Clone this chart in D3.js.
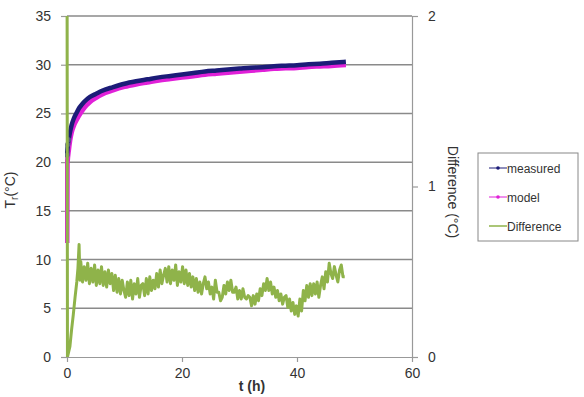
<!DOCTYPE html>
<html>
<head>
<meta charset="utf-8">
<script src="https://cdn.jsdelivr.net/npm/d3@7"></script>
<style>
  body { margin: 0; background: #fff; }
  text { font-family: "Liberation Sans", Arial, sans-serif; fill: #333; }
</style>
</head>
<body>
<div id="chart"></div>
<script>
var width = 584, height = 397;
var margin = {top: 16, right: 172, bottom: 40, left: 67};

// measured temperature (h, °C)
var measuredT = [0, 0.15, 0.3, 0.5, 0.8, 1.2, 1.7, 2, 2.5, 3, 4, 5, 6, 8, 10, 12, 14, 16, 18, 20,
  22, 24, 26, 28, 30, 32, 34, 36, 38, 40, 42, 44, 46, 48.5];
var measuredV = [20.7, 21.8, 22.3, 23.0, 23.8, 24.5, 25.1, 25.45, 25.85, 26.2, 26.7, 27.0, 27.3, 27.7, 28.05, 28.3, 28.5, 28.7, 28.85, 29.0,
  29.15, 29.3, 29.4, 29.5, 29.6, 29.7, 29.75, 29.85, 29.9, 29.95, 30.05, 30.1, 30.2, 30.3];

// model temperature
var modelT = [0, 0.05, 0.3, 0.5, 0.8, 1.2, 1.7, 2.3, 3, 4, 5, 6, 8, 10, 12, 14, 16, 18, 20,
  22, 24, 26, 28, 30, 32, 34, 36, 38, 40, 42, 44, 46, 48.5];
var modelV = [11.7, 19.8, 21.3, 22.2, 23.1, 23.8, 24.4, 25.0, 25.6, 26.2, 26.6, 26.95, 27.4, 27.75, 28.0, 28.2, 28.4, 28.55, 28.7,
  28.85, 29.0, 29.1, 29.2, 29.3, 29.4, 29.5, 29.6, 29.65, 29.7, 29.8, 29.85, 29.9, 30.0];

// difference, first hours
var diffStartT = [0, 0.08, 0.5, 0.8, 1.1, 1.4, 1.7, 1.9, 2.1, 2.25];
var diffStartV = [2.6, 0.0, 0.06, 0.16, 0.25, 0.35, 0.44, 0.52, 0.66, 0.45];
// difference afterwards, sampled every 0.3 h from 2.4 h
var diffFrom = 2.4, diffStep = 0.3;
var diffV = [
  0.56,0.44,0.53,0.45,0.55,0.43,0.52,0.44,0.54,
  0.42,0.51,0.43,0.53,0.42,0.50,0.41,0.51,0.43,0.49,
  0.39,0.48,0.38,0.46,0.37,0.45,0.39,
  0.35,0.44,0.36,0.45,0.34,0.43,0.37,0.46,0.35,0.42,
  0.43,0.36,0.46,0.37,0.47,0.39,0.45,
  0.40,0.49,0.41,0.51,0.43,0.48,
  0.52,0.44,0.53,0.43,0.51,0.45,0.54,0.42,0.50,0.44,0.53,0.43,0.51,
  0.42,0.49,0.41,0.47,0.39,0.46,0.38,0.44,0.37,0.43,
  0.47,0.40,0.44,0.37,0.41,0.34,0.45,0.38,0.38,0.33,
  0.35,0.42,0.37,0.44,0.39,0.45,0.38,0.38,0.41,0.34,
  0.39,0.34,0.40,0.35,0.34,0.36,0.35,0.30,0.36,0.31,
  0.37,0.33,0.40,0.36,0.43,0.39,0.46,
  0.39,0.44,0.37,0.41,0.35,0.39,0.33,0.37,0.31,0.35,
  0.36,0.29,0.34,0.27,0.32,0.25,0.30,0.24,
  0.34,0.27,0.39,0.33,0.42,0.35,0.43,
  0.36,0.43,0.37,0.44,0.35,0.42,
  0.47,0.40,0.50,0.44,0.55,0.49,
  0.46,0.53,0.48,0.44,0.51,0.54,0.47,0.47
];

var xTicks = [0, 20, 40, 60];
var yTicks = [0, 5, 10, 15, 20, 25, 30, 35];
var y2Ticks = [0, 1, 2];
var legendNames = ["measured", "model", "Difference"];
var colors = {measured: "#1c1c78", model: "#e020d8", diff: "#8fb34a"};

var measured = measuredT.map(function(t, i) { return [t, measuredV[i]]; });
var model = modelT.map(function(t, i) { return [t, modelV[i]]; });
var diff = diffStartT.map(function(t, i) { return [t, diffStartV[i]]; })
  .concat(diffV.map(function(v, i) { return [diffFrom + i * diffStep, v]; }));

var svg = d3.select("#chart").append("svg")
  .attr("width", width).attr("height", height);

var xScale = d3.scaleLinear().domain([0, 60]).range([margin.left, width - margin.right]);
var yScale = d3.scaleLinear().domain([0, 35]).range([height - margin.bottom, margin.top]);
var y2Scale = d3.scaleLinear().domain([0, 2]).range([height - margin.bottom, margin.top]);

svg.append("defs").append("clipPath").attr("id", "clip")
  .append("rect")
  .attr("x", margin.left - 2).attr("y", margin.top)
  .attr("width", width - margin.left - margin.right + 2)
  .attr("height", height - margin.top - margin.bottom);

// gridlines
svg.append("g").selectAll("line")
  .data(yTicks.slice(1))
  .enter().append("line")
  .attr("x1", margin.left).attr("x2", width - margin.right)
  .attr("y1", function(d) { return yScale(d); })
  .attr("y2", function(d) { return yScale(d); })
  .attr("stroke", "#8a8a8a").attr("stroke-width", 1.5);

function styleAxis(g) {
  g.select(".domain").attr("stroke", "#999").attr("stroke-width", 1.2);
  g.selectAll(".tick line").attr("stroke", "#999").attr("stroke-width", 1.2);
  g.selectAll(".tick text").attr("font-size", 14).attr("fill", "#333")
    .style("font-family", "Liberation Sans, Arial, sans-serif");
}

var xAxis = svg.append("g")
  .attr("transform", `translate(0,${height - margin.bottom})`)
  .call(d3.axisBottom(xScale).tickValues(xTicks).tickSize(5).tickSizeOuter(0).tickPadding(6))
  .call(styleAxis);

var yAxis = svg.append("g")
  .attr("transform", `translate(${margin.left},0)`)
  .call(d3.axisLeft(yScale).tickValues(yTicks).tickSize(6).tickSizeOuter(0).tickPadding(10))
  .call(styleAxis);

var y2Axis = svg.append("g")
  .attr("transform", `translate(${width - margin.right},0)`)
  .call(d3.axisRight(y2Scale).tickValues(y2Ticks).tickFormat(d3.format("d"))
    .tickSize(6).tickSizeOuter(0).tickPadding(10))
  .call(styleAxis);

// series
var line = d3.line()
  .x(function(d) { return xScale(d[0]); })
  .y(function(d) { return yScale(d[1]); })
  .curve(d3.curveMonotoneX);

var plot = svg.append("g").attr("clip-path", "url(#clip)");

plot.append("path").datum(model)
  .attr("fill", "none").attr("stroke", colors.model).attr("stroke-width", 5)
  .attr("d", line);

plot.append("path").datum(measured)
  .attr("fill", "none").attr("stroke", colors.measured).attr("stroke-width", 4.5)
  .attr("d", line);

plot.selectAll(".mdot")
  .data(measured.slice(0, 3))
  .enter().append("circle")
  .attr("cx", function(d) { return xScale(d[0]); })
  .attr("cy", function(d) { return yScale(d[1]); })
  .attr("r", 2.5).attr("fill", "#55558a");

var diffLine = d3.line()
  .x(function(d) { return xScale(d[0]); })
  .y(function(d) { return y2Scale(d[1]); });

plot.append("path").datum(diff)
  .attr("fill", "none").attr("stroke", colors.diff).attr("stroke-width", 3)
  .attr("stroke-linejoin", "round")
  .attr("d", diffLine);

// axis titles
svg.append("text")
  .attr("x", 252).attr("y", 391)
  .attr("text-anchor", "middle")
  .attr("font-size", 14).attr("font-weight", "bold")
  .text("t (h)");

var yLabel = svg.append("text")
  .attr("transform", "rotate(-90)")
  .attr("x", -190).attr("y", 15)
  .attr("text-anchor", "middle")
  .attr("font-size", 14);
yLabel.append("tspan").text("T");
yLabel.append("tspan").attr("font-size", 10).attr("dy", 3).text("r");
yLabel.append("tspan").attr("dy", -3).text("(°C)");

svg.append("text")
  .attr("transform", "translate(448,192) rotate(90)")
  .attr("text-anchor", "middle")
  .attr("font-size", 14)
  .text("Difference (°C)");

// legend
var legend = svg.append("g").attr("transform", "translate(478,153)");
legend.append("rect")
  .attr("width", 100).attr("height", 88)
  .attr("fill", "#fff").attr("stroke", "#888").attr("stroke-width", 1);

var legendColors = [colors.measured, colors.model, colors.diff];
var item = legend.selectAll(".item")
  .data(legendNames)
  .enter().append("g")
  .attr("transform", function(d, i) { return `translate(0,${15 + i * 29})`; });

item.append("line")
  .attr("x1", 11).attr("x2", 29).attr("y1", 0).attr("y2", 0)
  .attr("stroke", function(d, i) { return legendColors[i]; })
  .attr("stroke-width", function(d, i) { return i == 2 ? 1.5 : 1; });

item.filter(function(d, i) { return i < 2; }).append("circle")
  .attr("cx", 20).attr("cy", 0).attr("r", 1.8)
  .attr("fill", function(d, i) { return legendColors[i]; });

item.append("text")
  .attr("x", 29).attr("y", 4.5)
  .attr("font-size", 12)
  .text(function(d) { return d; });
</script>
</body>
</html>
